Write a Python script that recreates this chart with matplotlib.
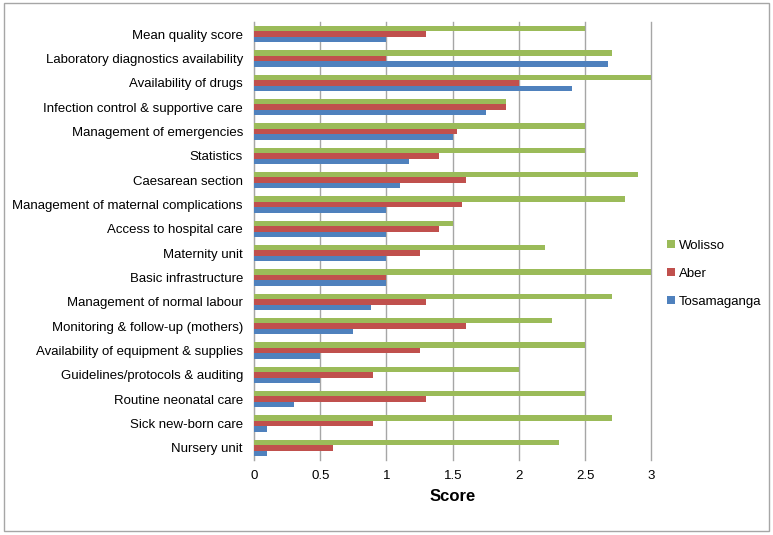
import matplotlib
matplotlib.use("Agg")
import matplotlib.pyplot as plt
import numpy as np
from matplotlib.patches import Rectangle

plt.rcParams['font.family'] = ['Liberation Sans', 'DejaVu Sans']

categories = [
    "Mean quality score",
    "Laboratory diagnostics availability",
    "Availability of drugs",
    "Infection control & supportive care",
    "Management of emergencies",
    "Statistics",
    "Caesarean section",
    "Management of maternal complications",
    "Access to hospital care",
    "Maternity unit",
    "Basic infrastructure",
    "Management of normal labour",
    "Monitoring & follow-up (mothers)",
    "Availability of equipment & supplies",
    "Guidelines/protocols & auditing",
    "Routine neonatal care",
    "Sick new-born care",
    "Nursery unit",
]
wolisso = [2.5, 2.7, 3.0, 1.9, 2.5, 2.5, 2.9, 2.8, 1.5, 2.2, 3.0, 2.7, 2.25, 2.5, 2.0, 2.5, 2.7, 2.3]
aber = [1.3, 1.0, 2.0, 1.9, 1.53, 1.4, 1.6, 1.57, 1.4, 1.25, 1.0, 1.3, 1.6, 1.25, 0.9, 1.3, 0.9, 0.6]
tosamaganga = [1.0, 2.67, 2.4, 1.75, 1.5, 1.17, 1.1, 1.0, 1.0, 1.0, 1.0, 0.88, 0.75, 0.5, 0.5, 0.3, 0.1, 0.1]
xticks = [0, 0.5, 1, 1.5, 2, 2.5, 3]
xticklabels = ["0", "0.5", "1", "1.5", "2", "2.5", "3"]

c_green = "#9BBB59"
c_red = "#C0504D"
c_blue = "#4F81BD"

fig = plt.figure(figsize=(7.73, 5.35), dpi=100)
W, H = 773, 535
ax = fig.add_axes([254 / W, 1 - 460 / H, (651.5 - 254) / W, (460 - 22) / H])

y = np.arange(len(categories))
h = 0.22
ax.barh(y - h, wolisso, height=h, color=c_green, label="Wolisso", zorder=3)
ax.barh(y, aber, height=h, color=c_red, label="Aber", zorder=3)
ax.barh(y + h, tosamaganga, height=h, color=c_blue, label="Tosamaganga", zorder=3)

ax.set_ylim(len(categories) - 0.5, -0.5)
ax.set_xlim(0, 3)
ax.set_yticks(y)
ax.set_yticklabels(categories, fontsize=9.5)
ax.set_xticks(xticks)
ax.set_xticklabels(xticklabels, fontsize=9.5)
ax.tick_params(axis='y', length=0, pad=8)
ax.tick_params(axis='x', length=0, pad=7.5)
ax.grid(axis='x', color="#A6A6A6", linewidth=1.0, zorder=0)
for gl in ax.get_xgridlines():
    gl.set_clip_on(False)
for s in ['top', 'right', 'bottom']:
    ax.spines[s].set_visible(False)
ax.spines['left'].set_color("#A6A6A6")
ax.set_xlabel("Score", fontsize=12, fontweight='bold', labelpad=5)

handles, labels = ax.get_legend_handles_labels()
leg = fig.legend(handles, labels, loc='upper left', bbox_to_anchor=(655 / W, 1 - 228 / H),
                 frameon=False, fontsize=9.5, handlelength=0.6, handleheight=0.6,
                 handletextpad=0.3, labelspacing=1.2)

fig.patches.append(Rectangle((4 / W, 4 / H), (769 - 4) / W, (531 - 3) / H,
                             transform=fig.transFigure, fill=False,
                             edgecolor="#A6A6A6", linewidth=1.0))

fig.savefig("out.png", dpi=100)
